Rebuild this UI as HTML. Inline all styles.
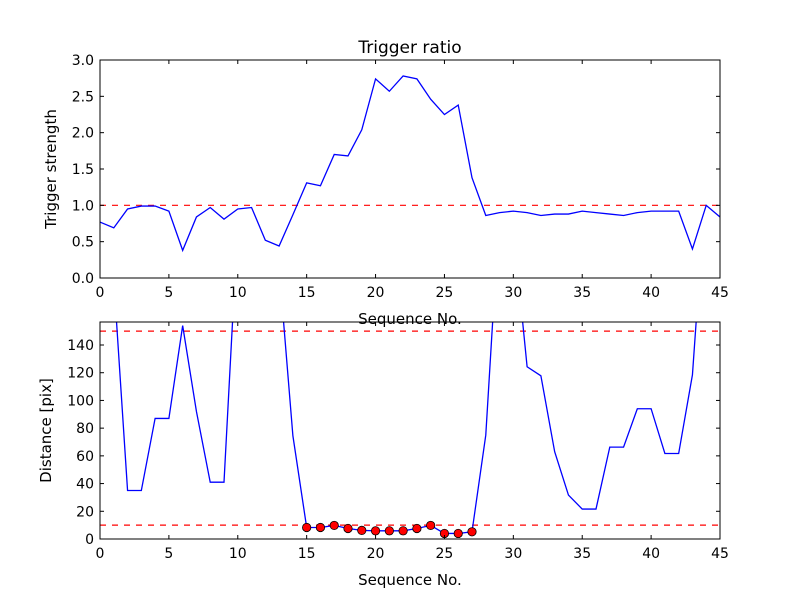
<!DOCTYPE html>
<html><head><meta charset="utf-8"><style>
body{margin:0;background:#fff;}
svg{display:block;font-family:"DejaVu Sans","Liberation Sans",sans-serif;}
</style></head><body>
<svg id="c" width="800" height="600" viewBox="0 0 800 600"></svg>
<script>
const seq = Array.from({length:46},(_,i)=>i);
const strength = [0.77,0.69,0.95,0.99,0.99,0.92,0.38,0.84,0.97,0.81,0.95,0.97,0.52,0.44,0.87,1.31,1.27,1.70,1.68,2.04,2.74,2.57,2.78,2.74,2.46,2.25,2.38,1.38,0.86,0.90,0.92,0.90,0.86,0.88,0.88,0.92,0.90,0.88,0.86,0.90,0.92,0.92,0.92,0.40,1.00,0.84];
const distance = [200,187,35,35,87,87,154,92,41,41,228,220,220,196,74.5,8.3,8.3,9.8,7.6,6.2,5.9,5.9,5.9,7.6,9.8,4,4,5.2,75,239,224,124.3,117.8,63,31.7,21.6,21.6,66.3,66.3,94,94,61.7,61.7,118.5,260,260];
const markedIdx = [15,16,17,18,19,20,21,22,23,24,25,26,27];
const xTicks = [0,5,10,15,20,25,30,35,40,45];
const topTicks = [0,0.5,1.0,1.5,2.0,2.5,3.0];
const botTicks = [0,20,40,60,80,100,120,140];
const topThreshold = [1.0];
const botThresholds = [10,150];

const NS="http://www.w3.org/2000/svg";
const svg=document.getElementById('c');
function el(t,a,p){const e=document.createElementNS(NS,t);for(const k in a)e.setAttribute(k,a[k]);(p||svg).appendChild(e);return e;}

function panel(opts){
  const {x0,x1,y0,y1,ymin,ymax,yt,ylabel,fmt,vals,thr,name}=opts;
  const sx=v=>x0+(v-0)/45*(x1-x0);
  const sy=v=>y1-(v-ymin)/(ymax-ymin)*(y1-y0);
  const g=el('g',{});
  
  
  const defs=el('clipPath',{id:'clip-'+name},g);
  el('rect',{x:x0,y:y0,width:x1-x0,height:y1-y0},defs);
  thr.forEach(t=>{
    const l=el('line',{x1:x0,x2:x1,y1:sy(t),y2:sy(t),stroke:'#ff0000','stroke-width':1.2,'stroke-dasharray':'6,6'},g);
    
    
  });
  const pts=seq.map((s,i)=>sx(s).toFixed(2)+','+sy(vals[i]).toFixed(2)).join(' ');
  const pl=el('polyline',{points:pts,fill:'none',stroke:'#0000ff','stroke-width':1.3,'clip-path':'url(#clip-'+name+')'},g);
  
  
  if(opts.markers){
    opts.markers.forEach(i=>{
      const c=el('circle',{cx:sx(seq[i]),cy:sy(vals[i]),r:4.2,fill:'#ff0000',stroke:'#000','stroke-width':0.8},g);
      
      
    });
  }
  el('rect',{x:x0,y:y0,width:x1-x0,height:y1-y0,fill:'none',stroke:'#000','stroke-width':1},g);
  xTicks.forEach(t=>{
    const X=sx(t);
    el('line',{x1:X,x2:X,y1:y1,y2:y1-4,stroke:'#000'},g);
    el('line',{x1:X,x2:X,y1:y0,y2:y0+4,stroke:'#000'},g);
    const tx=el('text',{x:X,y:y1+19,'text-anchor':'middle','font-size':14},g);
    tx.textContent=t;
    
    
  });
  yt.forEach(t=>{
    const Y=sy(t);
    el('line',{x1:x0,x2:x0+4,y1:Y,y2:Y,stroke:'#000'},g);
    el('line',{x1:x1,x2:x1-4,y1:Y,y2:Y,stroke:'#000'},g);
    const tx=el('text',{x:x0-6,y:Y+5,'text-anchor':'end','font-size':14},g);
    tx.textContent=fmt(t);
    
    
  });
  const xl=el('text',{x:(x0+x1)/2,y:y1+46,'text-anchor':'middle','font-size':15},g);
  xl.textContent='Sequence No.';
  
  
  const cy=(y0+y1)/2;
  const yl=el('text',{x:0,y:0,'text-anchor':'middle','font-size':15,transform:`translate(${opts.ylx},${cy}) rotate(-90)`},g);
  yl.textContent=ylabel;
  
  
}
panel({name:'top-panel',x0:100,x1:720,y0:60,y1:278,ymin:0,ymax:3,yt:topTicks,ylabel:'Trigger strength',fmt:v=>v.toFixed(1),vals:strength,thr:topThreshold,ylx:56});
panel({name:'bottom-panel',x0:100,x1:720,y0:322,y1:539,ymin:0,ymax:156.6,yt:botTicks,ylabel:'Distance [pix]',fmt:v=>v,vals:distance,thr:botThresholds,markers:markedIdx,ylx:51});
const title=el('text',{x:410,y:53,'text-anchor':'middle','font-size':17});
title.textContent='Trigger ratio';


</script>
</body></html>
